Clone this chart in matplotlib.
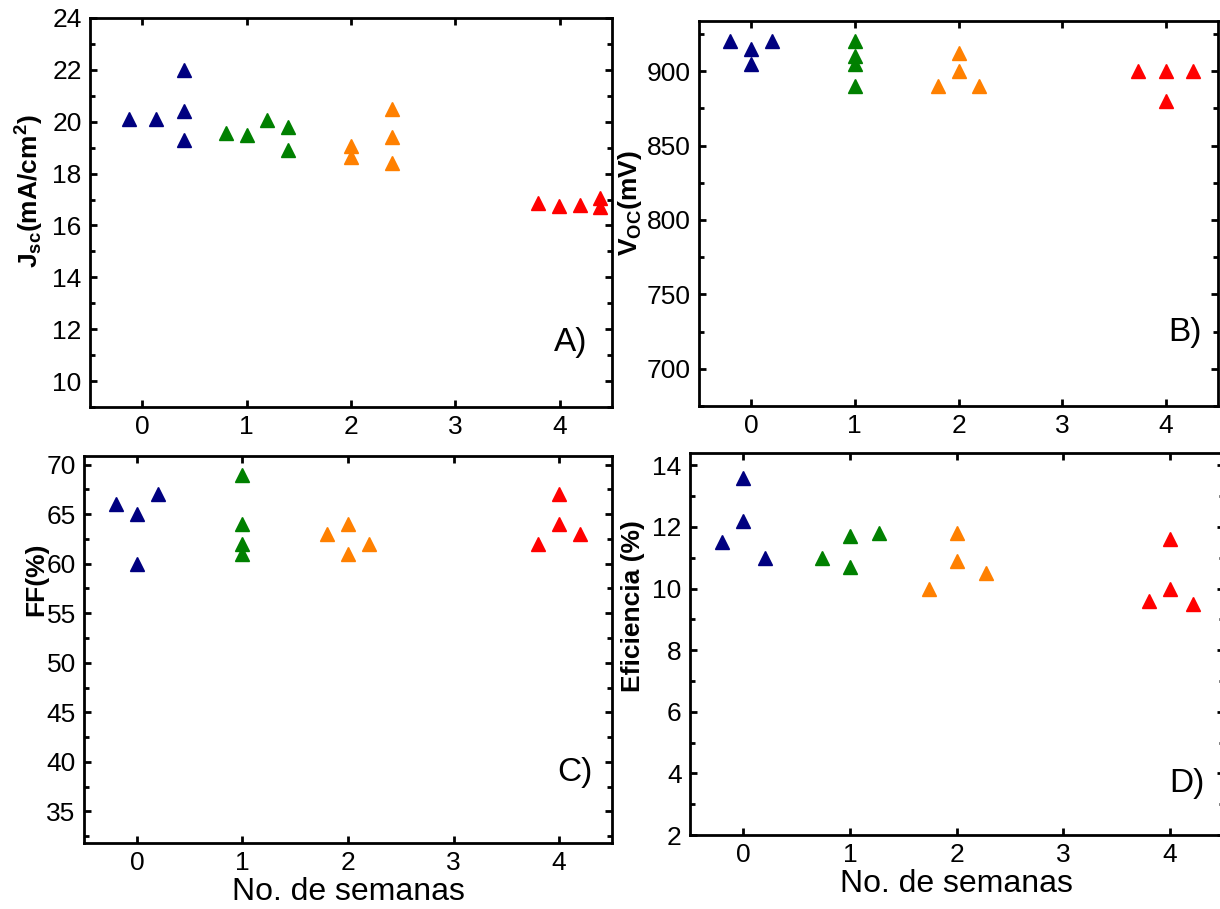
import numpy as np
import matplotlib
matplotlib.use('Agg')
import matplotlib.pyplot as plt
from matplotlib.ticker import MultipleLocator

plt.rcParams['font.family'] = ['Liberation Sans', 'DejaVu Sans']
plt.rcParams['mathtext.fontset'] = 'custom'
plt.rcParams['mathtext.rm'] = 'Liberation Sans'
plt.rcParams['mathtext.bf'] = 'Liberation Sans:bold'
plt.rcParams['mathtext.it'] = 'Liberation Sans:italic'

# colours per week group (0, 1, 2, 4 weeks)
colors = ['#000080', '#008000', '#ff8000', '#ff0000']

# A) Jsc
jsc_x = [[-0.13, 0.13, 0.40, 0.40, 0.40],
         [0.80, 1.00, 1.20, 1.40, 1.40],
         [2.00, 2.00, 2.39, 2.39, 2.39],
         [3.79, 3.99, 4.19, 4.39, 4.39]]
jsc_y = [[20.1, 20.1, 22.0, 20.4, 19.3],
         [19.55, 19.5, 20.05, 19.8, 18.9],
         [19.05, 18.65, 20.5, 19.4, 18.4],
         [16.85, 16.75, 16.8, 17.05, 16.7]]

# B) Voc
voc_x = [[-0.2, 0.0, 0.0, 0.2],
         [1.0, 1.0, 1.0, 1.0],
         [1.8, 2.0, 2.0, 2.2],
         [3.73, 4.0, 4.0, 4.26]]
voc_y = [[920, 915, 905, 920],
         [920, 910, 905, 890],
         [890, 912, 900, 890],
         [900, 900, 880, 900]]

# C) FF
ff_x = [[-0.2, 0.0, 0.0, 0.2],
        [1.0, 1.0, 1.0, 1.0],
        [1.8, 2.0, 2.0, 2.2],
        [3.8, 4.0, 4.0, 4.2]]
ff_y = [[66, 65, 60, 67],
        [69, 64, 62, 61],
        [63, 64, 61, 62],
        [62, 67, 64, 63]]

# D) Eficiencia
eff_x = [[-0.2, 0.0, 0.0, 0.2],
         [0.74, 1.0, 1.0, 1.27],
         [1.74, 2.0, 2.0, 2.27],
         [3.8, 4.0, 4.0, 4.21]]
eff_y = [[11.5, 13.6, 12.2, 11.0],
         [11.0, 11.7, 10.7, 11.8],
         [10.0, 11.8, 10.9, 10.5],
         [9.6, 11.6, 10.0, 9.5]]

xticks = [0, 1, 2, 3, 4]

fig = plt.figure(figsize=(12.2, 9.09), dpi=100)

def make_axes(rect, xs, ys, ylim, major, minor, ylabel, labpos, letter, letpos):
    ax = fig.add_axes(rect)
    for gx, gy, c in zip(xs, ys, colors):
        ax.plot(gx, gy, linestyle='none', marker='^', ms=9.5, color=c, mec=c)
    ax.set_xlim(-0.5, 4.5)
    ax.set_ylim(*ylim)
    ax.set_xticks(xticks)
    ax.yaxis.set_major_locator(MultipleLocator(major))
    ax.yaxis.set_minor_locator(MultipleLocator(minor))
    ax.tick_params(which='both', direction='in', top=True, right=True,
                   labelsize=19, width=2, pad=6)
    ax.tick_params(which='major', length=5)
    ax.tick_params(which='minor', length=3.5)
    for s in ax.spines.values():
        s.set_linewidth(2)
    ax.set_ylabel(ylabel, fontsize=19, fontweight='bold', va='center')
    ax.yaxis.set_label_coords(*labpos)
    ax.text(letpos[0], letpos[1], letter, transform=ax.transAxes,
            fontsize=24, ha='center', va='center')
    return ax

axA = make_axes([0.0738, 0.5523, 0.4278, 0.4279], jsc_x, jsc_y, (9, 24), 2, 1,
                r'J$_{\mathbf{sc}}$(mA/cm$^{\mathbf{2}}$)', (-0.115, 0.554),
                'A)', (0.92, 0.165))
axB = make_axes([0.573, 0.5534, 0.4254, 0.4239], voc_x, voc_y, (675, 934), 50, 25,
                r'V$_{\mathbf{OC}}$(mV)', (-0.133, 0.527),
                'B)', (0.936, 0.19))
axC = make_axes([0.0689, 0.0726, 0.4327, 0.426], ff_x, ff_y, (31.8, 70.9), 5, 2.5,
                'FF(%)', (-0.091, 0.68),
                'C)', (0.93, 0.183))
axD = make_axes([0.5656, 0.0814, 0.4373, 0.4203], eff_x, eff_y, (2, 14.4), 2, 1,
                'Eficiencia (%)', (-0.107, 0.60),
                'D)', (0.932, 0.136))

for ax in (axC, axD):
    ax.set_xlabel('No. de semanas', fontsize=23, labelpad=1)

fig.savefig('out.png', dpi=100)
